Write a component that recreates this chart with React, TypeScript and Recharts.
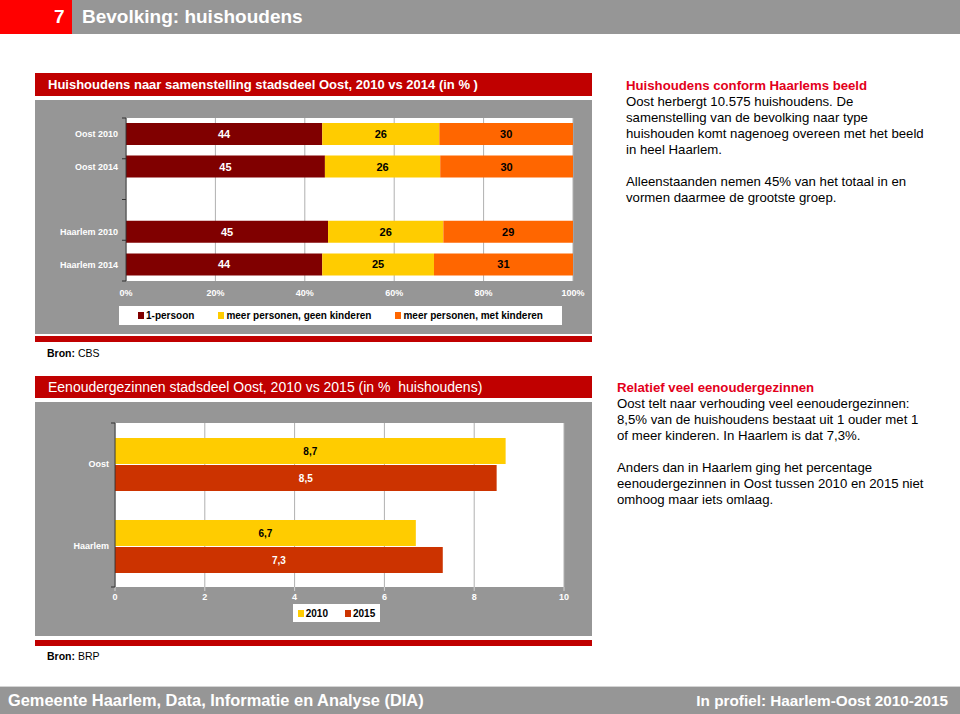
import React from "react";
import { BarChart, Bar, XAxis, YAxis, CartesianGrid, LabelList, Legend } from "recharts";

// huishoudens naar samenstelling (%)
const huishoudenCats = ["Oost 2010", "Oost 2014", "", "Haarlem 2010", "Haarlem 2014"];
const eenPersoon = [43.9, 44.5, null, 45.2, 43.9];
const geenKinderen = [26.2, 25.8, null, 25.8, 25.0];
const metKinderen = [29.9, 29.7, null, 29.0, 31.1];
const pctTicks = [0, 20, 40, 60, 80, 100];

// eenoudergezinnen (% huishoudens)
const gezinCats = ["Oost", "Haarlem"];
const jaar2010 = [8.7, 6.7];
const jaar2015 = [8.5, 7.3];
const gezinTicks = [0, 2, 4, 6, 8, 10];

const FONT = "'Liberation Sans', Arial, sans-serif";
const RED = "#C00000";
const GRAY = "#969696";

const huishoudenData = huishoudenCats.map((name, i) => ({
  name,
  eenPersoon: eenPersoon[i],
  geenKinderen: geenKinderen[i],
  metKinderen: metKinderen[i],
}));

const gezinData = gezinCats.map((name, i) => ({
  name,
  j2010: jaar2010[i],
  j2015: jaar2015[i],
}));

const rond = (v: any) => (v == null ? "" : String(Math.round(v)));
const komma = (v: any) => (v == null ? "" : String(v).replace(".", ","));

const tickStyle = { fill: "#fff", fontSize: 9, fontWeight: "bold" as const, fontFamily: FONT };
const labelProps = { fontSize: 11, fontWeight: "bold", fontFamily: FONT };

// category labels without wrapping
function CatTick({ x, y, payload }: any) {
  return (
    <text x={x} y={y} dy="0.355em" textAnchor="end" {...tickStyle}>
      {payload?.value}
    </text>
  );
}

function LegendBox({ payload, gap }: any) {
  return (
    <div
      style={{
        background: "#fff",
        width: "100%",
        height: "100%",
        display: "flex",
        alignItems: "center",
        justifyContent: "center",
        gap,
        fontFamily: FONT,
        fontSize: 10,
        fontWeight: "bold",
        color: "#000",
      }}
    >
      {(payload || []).map((p: any) => (
        <span key={p.value} style={{ display: "flex", alignItems: "center" }}>
          <span style={{ width: 6, height: 7, background: p.color, marginRight: 2 }} />
          {p.value}
        </span>
      ))}
    </div>
  );
}

const abs = (left: number, top: number, extra: any = {}) => ({
  position: "absolute" as const,
  left,
  top,
  ...extra,
});

const bodyText = {
  fontFamily: FONT,
  fontSize: 13.2,
  lineHeight: "16px",
  color: "#000",
};

export default function App() {
  return (
    <div style={abs(0, 0, { width: 960, height: 714, background: "#fff", overflow: "hidden", fontFamily: FONT })}>
      {/* kop */}
      <div style={abs(0, 0, { width: 72, height: 34, background: "#FF0000" })} />
      <div style={abs(72, 0, { width: 888, height: 34, background: GRAY })} />
      <div style={abs(54, 0, { height: 34, lineHeight: "34px", color: "#fff", fontSize: 19, fontWeight: "bold" })}>7</div>
      <div style={abs(82, 0, { height: 34, lineHeight: "34px", color: "#fff", fontSize: 19, fontWeight: "bold" })}>
        Bevolking: huishoudens
      </div>

      {/* grafiek 1 */}
      <div style={abs(35, 73, { width: 544, height: 23, background: RED, color: "#fff", fontSize: 13, fontWeight: "bold", lineHeight: "23px", paddingLeft: 13 })}>
        Huishoudens naar samenstelling stadsdeel Oost, 2010 vs 2014 (in % )
      </div>
      <div style={abs(35, 100, { width: 557, height: 234, background: GRAY })}>
        <BarChart
          width={557}
          height={234}
          data={huishoudenData}
          layout="vertical"
          margin={{ top: 18, right: 19, bottom: 33, left: 0 }}
        >
          <CartesianGrid horizontal={false} fill="#fff" stroke="#b0b0b0" />
          <XAxis
            type="number"
            domain={[0, 100]}
            ticks={pctTicks}
            tickFormatter={(v) => `${v}%`}
            axisLine={false}
            tickLine={false}
            tickSize={0}
            tickMargin={9}
            height={20}
            tick={tickStyle}
          />
          <YAxis
            type="category"
            dataKey="name"
            width={91}
            axisLine={false}
            tickLine={false}
            tickSize={0}
            tickMargin={8}
            interval={0}
            tick={<CatTick />}
          />
          <YAxis
            yAxisId="rand"
            type="number"
            domain={[0, 5]}
            ticks={[0, 1, 2, 3, 4, 5]}
            allowDataOverflow
            mirror
            tickSize={-4}
            tickFormatter={() => ""}
            axisLine={{ stroke: "#333" }}
            tickLine={{ stroke: "#333" }}
          />
          <Legend
            verticalAlign="middle"
            align="center"
            wrapperStyle={{ top: 206, left: 84, width: 443, height: 19 }}
            content={(p: any) => <LegendBox payload={p.payload} gap={24} />}
          />
          <Bar dataKey="eenPersoon" name="1-persoon" stackId="a" fill="#800000" barSize={22} isAnimationActive={false}>
            <LabelList dataKey="eenPersoon" position="center" fill="#fff" formatter={rond} {...labelProps} />
          </Bar>
          <Bar dataKey="geenKinderen" name="meer personen, geen kinderen" stackId="a" fill="#FFCC00" barSize={22} isAnimationActive={false}>
            <LabelList dataKey="geenKinderen" position="center" fill="#000" formatter={rond} {...labelProps} />
          </Bar>
          <Bar dataKey="metKinderen" name="meer personen, met kinderen" stackId="a" fill="#FF6600" barSize={22} isAnimationActive={false}>
            <LabelList dataKey="metKinderen" position="center" fill="#000" formatter={rond} {...labelProps} />
          </Bar>
        </BarChart>
      </div>
      <div style={abs(35, 336, { width: 557, height: 6, background: RED })} />
      <div style={abs(47, 346, { fontSize: 10.5, lineHeight: "14px" })}>
        <b>Bron:</b> CBS
      </div>

      <div style={abs(626, 78, bodyText)}>
        <div style={{ color: "#E3001B", fontWeight: "bold" }}>Huishoudens conform Haarlems beeld</div>
        Oost herbergt 10.575 huishoudens. De
        <br />
        samenstelling van de bevolking naar type
        <br />
        huishouden komt nagenoeg overeen met het beeld
        <br />
        in heel Haarlem.
        <br />
        <br />
        Alleenstaanden nemen 45% van het totaal in en
        <br />
        vormen daarmee de grootste groep.
      </div>

      {/* grafiek 2 */}
      <div style={abs(35, 376, { width: 544, height: 22, background: RED, color: "#fff", fontSize: 14, lineHeight: "22px", paddingLeft: 13 })}>
        Eenoudergezinnen stadsdeel Oost, 2010 vs 2015 (in %&nbsp; huishoudens)
      </div>
      <div style={abs(35, 402, { width: 557, height: 234, background: GRAY })}>
        <BarChart
          width={557}
          height={234}
          data={gezinData}
          layout="vertical"
          barGap={1}
          margin={{ top: 21, right: 28, bottom: 29, left: 0 }}
        >
          <CartesianGrid horizontal={false} fill="#fff" stroke="#b0b0b0" />
          <XAxis
            type="number"
            domain={[0, 10]}
            ticks={gezinTicks}
            axisLine={false}
            tickLine={{ stroke: "#d0d0d0" }}
            tickSize={4}
            tickMargin={3}
            height={20}
            tick={tickStyle}
          />
          <YAxis
            type="category"
            dataKey="name"
            width={80}
            axisLine={false}
            tickLine={false}
            tickSize={0}
            tickMargin={6}
            interval={0}
            tick={<CatTick />}
          />
          <YAxis
            yAxisId="rand"
            type="number"
            domain={[0, 2]}
            ticks={[0, 1, 2]}
            allowDataOverflow
            mirror
            tickSize={-4}
            tickFormatter={() => ""}
            axisLine={{ stroke: "#333" }}
            tickLine={{ stroke: "#333" }}
          />
          <Legend
            verticalAlign="middle"
            align="center"
            wrapperStyle={{ top: 202, left: 258, width: 87, height: 18 }}
            content={(p: any) => <LegendBox payload={p.payload} gap={17} />}
          />
          <Bar dataKey="j2010" name="2010" fill="#FFCC00" barSize={26} isAnimationActive={false}>
            <LabelList dataKey="j2010" position="center" fill="#000" formatter={komma} {...labelProps} fontSize={10} />
          </Bar>
          <Bar dataKey="j2015" name="2015" fill="#CC3300" barSize={26} isAnimationActive={false}>
            <LabelList dataKey="j2015" position="center" fill="#fff" formatter={komma} {...labelProps} fontSize={10} />
          </Bar>
        </BarChart>
      </div>
      <div style={abs(35, 640, { width: 557, height: 6, background: RED })} />
      <div style={abs(47, 649, { fontSize: 10.5, lineHeight: "14px" })}>
        <b>Bron:</b> BRP
      </div>

      <div style={abs(617, 380, bodyText)}>
        <div style={{ color: "#E3001B", fontWeight: "bold" }}>Relatief veel eenoudergezinnen</div>
        Oost telt naar verhouding veel eenoudergezinnen:
        <br />
        8,5% van de huishoudens bestaat uit 1 ouder met 1
        <br />
        of meer kinderen. In Haarlem is dat 7,3%.
        <br />
        <br />
        Anders dan in Haarlem ging het percentage
        <br />
        eenoudergezinnen in Oost tussen 2010 en 2015 niet
        <br />
        omhoog maar iets omlaag.
      </div>

      {/* voet */}
      <div style={abs(0, 686, { width: 960, height: 1, background: "#d4d4d4" })} />
      <div style={abs(0, 687, { width: 960, height: 27, background: GRAY })} />
      <div style={abs(8, 687, { height: 27, lineHeight: "27px", color: "#fff", fontSize: 16.4, fontWeight: "bold", whiteSpace: "nowrap" })}>
        Gemeente Haarlem, Data, Informatie en Analyse (DIA)
      </div>
      <div style={abs(0, 687, { width: 948, height: 27, lineHeight: "27px", color: "#fff", fontSize: 15.3, fontWeight: "bold", textAlign: "right", whiteSpace: "nowrap" })}>
        In profiel: Haarlem-Oost 2010-2015
      </div>
    </div>
  );
}
